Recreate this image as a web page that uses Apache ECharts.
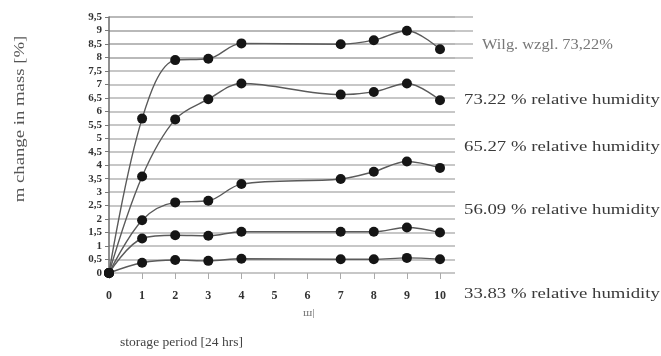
<!DOCTYPE html>
<html><head><meta charset="utf-8">
<script src="https://cdn.jsdelivr.net/npm/echarts@6/dist/echarts.min.js"></script>
<style>html,body{margin:0;padding:0;background:#fff}#c{width:661px;height:356px}</style>
</head><body><div id="c"></div>
<script>
const days = [0, 1, 2, 3, 4, 7, 8, 9, 10];
const seriesNames = ['Wilg. wzgl. 73,22%', '73.22 % relative humidity', '65.27 % relative humidity', '56.09 % relative humidity', '33.83 % relative humidity'];
const wilg7322 = [0, 5.73, 7.90, 7.95, 8.52, 8.49, 8.64, 8.99, 8.30];
const rh7322 = [0, 3.58, 5.70, 6.45, 7.03, 6.62, 6.72, 7.03, 6.41];
const rh6527 = [0, 1.96, 2.62, 2.68, 3.30, 3.49, 3.76, 4.14, 3.90];
const rh5609 = [0, 1.28, 1.40, 1.38, 1.53, 1.53, 1.53, 1.69, 1.50];
const rh3383 = [0, 0.38, 0.48, 0.45, 0.53, 0.51, 0.51, 0.56, 0.51];
const allValues = [wilg7322, rh7322, rh6527, rh5609, rh3383];

const serif = '"Liberation Serif", "DejaVu Serif", serif';
const chart = echarts.init(document.getElementById('c'), null, {renderer: 'canvas'});
const gridLine = {show: true, lineStyle: {color: '#b4b4b4', width: 1.6}};

const series = allValues.map((vals, i) => ({
  name: seriesNames[i], type: 'line', xAxisIndex: 0, yAxisIndex: 0,
  data: days.map((d, j) => [d, vals[j]]),
  smooth: 0.35, symbol: 'circle', symbolSize: 10,
  lineStyle: {color: '#5a5a5a', width: 1.4},
  itemStyle: {color: '#151515'}, z: 5
}));

function label(text, x, y, size, sx, color) {
  return {type: 'text', x: x, y: y, scaleX: sx,
          style: {text: text, font: size + 'px ' + serif, fill: color, verticalAlign: 'middle'}};
}

chart.setOption({
  animation: false,
  grid: [
    {left: 109, top: 17, width: 331, height: 256},
    {left: 109, top: 17, width: 346, height: 256},
    {left: 109, top: 17, width: 364, height: 256 * 1.5 / 9.5}
  ],
  xAxis: [
    {type: 'value', gridIndex: 0, min: 0, max: 10, interval: 1,
     axisLine: {show: false}, splitLine: {show: false},
     axisTick: {show: true, length: 6, lineStyle: {color: '#aaa'}},
     axisLabel: {margin: 17, fontFamily: serif, fontWeight: 'bold', fontSize: 12, color: '#333'}},
    {type: 'value', gridIndex: 1, min: 0, max: 1, show: false},
    {type: 'value', gridIndex: 2, min: 0, max: 1, show: false}
  ],
  yAxis: [
    {type: 'value', gridIndex: 0, min: 0, max: 9.5, interval: 0.5,
     axisLine: {show: true, lineStyle: {color: '#6a6a6a', width: 1.5}},
     axisTick: {show: true, length: 4, lineStyle: {color: '#777'}},
     splitLine: {show: false},
     axisLabel: {margin: 7, fontFamily: serif, fontWeight: 'bold', fontSize: 11, color: '#333',
                 formatter: v => String(v).replace('.', ',')}},
    {type: 'value', gridIndex: 1, min: 0, max: 9.5, interval: 0.5,
     axisLine: {show: false}, axisTick: {show: false}, axisLabel: {show: false}, splitLine: gridLine},
    {type: 'value', gridIndex: 2, min: 8, max: 9.5, interval: 0.5,
     axisLine: {show: false}, axisTick: {show: false}, axisLabel: {show: false}, splitLine: gridLine}
  ],
  series: series,
  graphic: [
    label(seriesNames[0], 482, 45, 14, 1.17, '#777'),
    label(seriesNames[1], 464, 100, 15, 1.25, '#3a3a3a'),
    label(seriesNames[2], 464, 147, 15, 1.25, '#3a3a3a'),
    label(seriesNames[3], 464, 210, 15, 1.25, '#3a3a3a'),
    label(seriesNames[4], 464, 294, 15, 1.25, '#3a3a3a'),
    label('ш|', 303, 313, 11, 1.1, '#777'),
    label('storage period [24 hrs]', 120, 343, 12, 1.13, '#444'),
    {type: 'text', x: 20, y: 119, rotation: Math.PI / 2, scaleX: 1.25,
     style: {text: 'm change in mass [%]', font: '15px ' + serif, fill: '#555', align: 'center', verticalAlign: 'middle'}}
  ]
});
</script></body></html>
